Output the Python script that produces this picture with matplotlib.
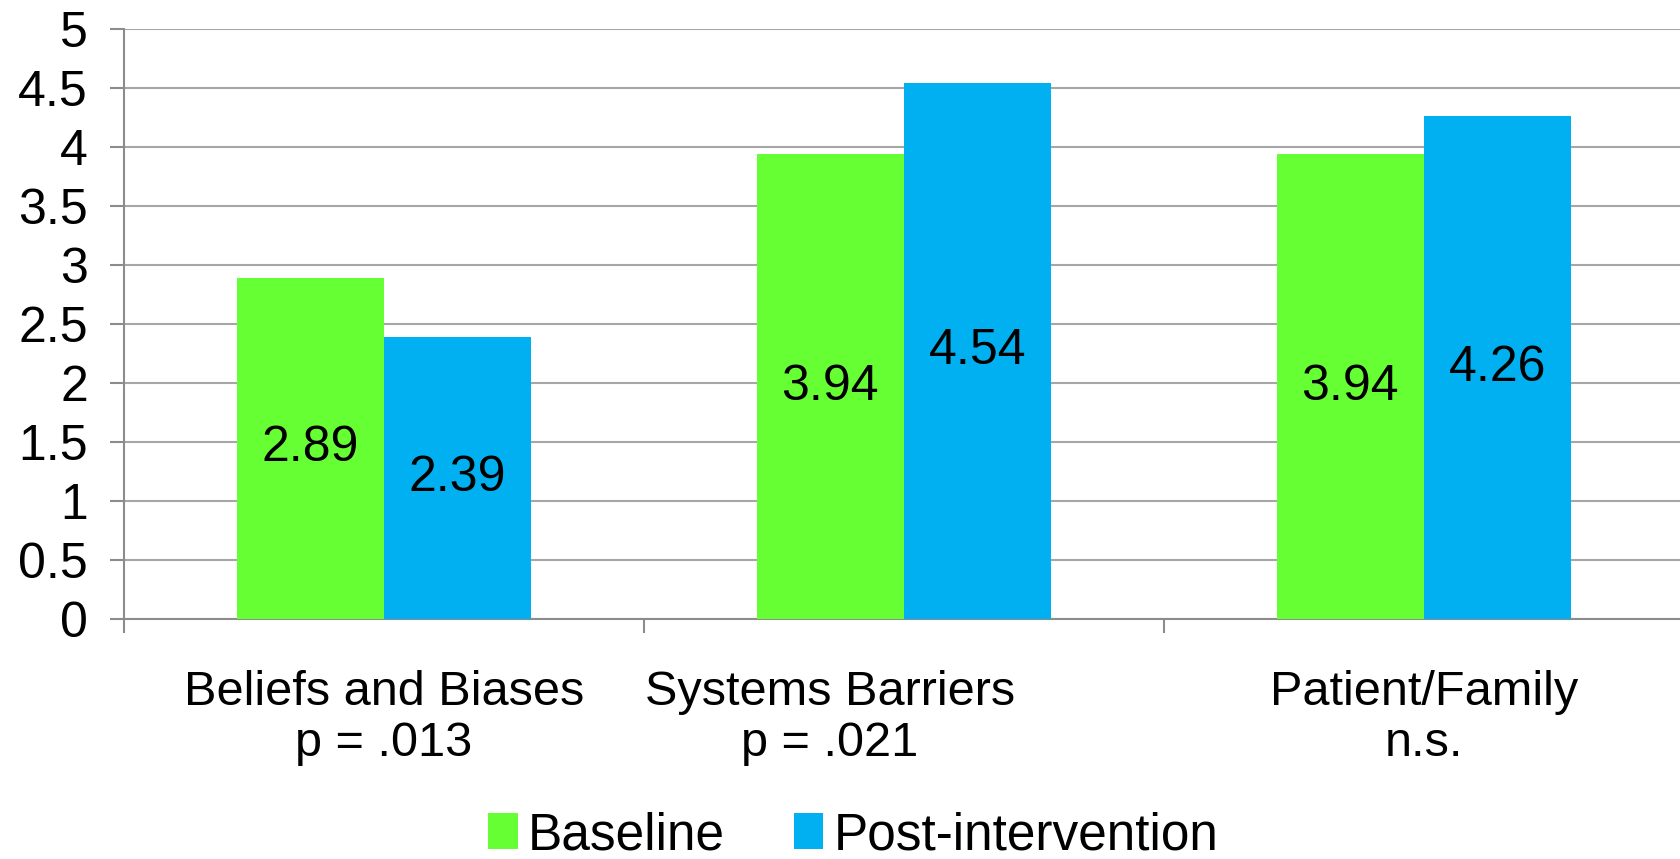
import numpy as np
import matplotlib.pyplot as plt
import matplotlib.transforms as mtransforms

plt.rcParams['font.family'] = ['Liberation Sans', 'DejaVu Sans']

categories = ["Beliefs and Biases\np = .013", "Systems Barriers\np = .021", "Patient/Family\nn.s."]
baseline = [2.89, 3.94, 3.94]
post = [2.39, 4.54, 4.26]
series_names = ["Baseline", "Post-intervention"]
colors = ["#66FF33", "#00B0F0"]

fig = plt.figure(figsize=(16.8, 8.59), dpi=100)
ax = fig.add_axes([0.0738, 0.2794, 0.9285, 0.6868])

x = np.arange(len(categories))
w = 0.283
b1 = ax.bar(x - w / 2, baseline, w, color=colors[0], label=series_names[0], zorder=3)
b2 = ax.bar(x + w / 2, post, w, color=colors[1], label=series_names[1], zorder=3)
ax.bar_label(b1, labels=[f"{v:.2f}" for v in baseline], label_type='center', fontsize=36)
ax.bar_label(b2, labels=[f"{v:.2f}" for v in post], label_type='center', fontsize=36)

ax.set_ylim(0, 5)
ax.set_xlim(-0.5, 2.5)
ax.set_yticks(np.arange(0, 5.01, 0.5))
ax.set_yticklabels(["0", "0.5", "1", "1.5", "2", "2.5", "3", "3.5", "4", "4.5", "5"])
ax.yaxis.grid(True, color="#A6A6A6", linewidth=1.5, zorder=0)
ax.tick_params(axis='y', length=10, width=1.5, color="#8C8C8C", labelsize=36, pad=16)

ax.set_xticks(x)
ax.set_xticklabels(categories, fontsize=35, linespacing=1.17)
ax.set_xticks([-0.5, 0.5, 1.5, 2.5], minor=True)
ax.tick_params(axis='x', which='major', length=0, pad=37)
ax.tick_params(axis='x', which='minor', length=10, width=1.5, color="#8C8C8C")
# middle label sits left of its group in the original
lbl = ax.get_xticklabels()[1]
lbl.set_transform(lbl.get_transform() + mtransforms.ScaledTranslation(-0.74, 0, fig.dpi_scale_trans))

for s in ["top", "right"]:
    ax.spines[s].set_visible(False)
for s in ["left", "bottom"]:
    ax.spines[s].set_color("#8C8C8C")
    ax.spines[s].set_linewidth(1.5)

fig.legend(loc='center', bbox_to_anchor=(0.508, 0.027), ncol=2, frameon=False,
           fontsize=37, handlelength=0.57, handleheight=0.7, handletextpad=0.2,
           columnspacing=1.35)

fig.savefig("out.png", dpi=100)
